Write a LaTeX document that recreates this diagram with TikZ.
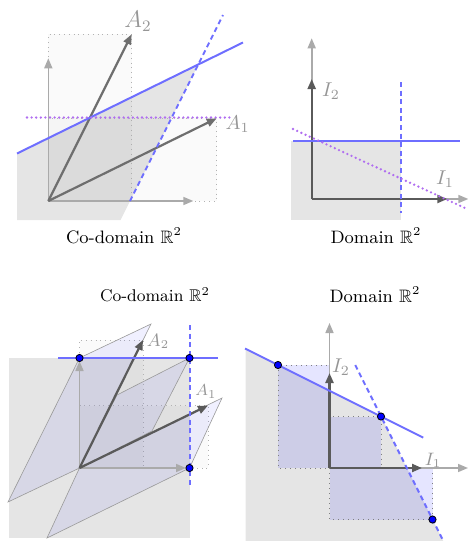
\documentclass[tikz,border=0pt]{standalone}
\usepackage{amssymb}
\usetikzlibrary{arrows.meta}
\definecolor{regiongray}{RGB}{229,229,229}
\definecolor{lineblue}{RGB}{110,110,255}
\definecolor{purp}{RGB}{176,110,240}
\definecolor{darkarrow}{RGB}{90,90,90}
\definecolor{midarrow}{RGB}{110,110,110}
\definecolor{lightaxis}{RGB}{170,170,170}
\definecolor{labelgray}{RGB}{150,150,150}
\tikzset{
 axisline/.style={lightaxis, line width=0.8pt, -{Triangle[length=5pt,width=4pt]}},
 vecarrow/.style={darkarrow, line width=1.1pt, -{Triangle[length=5pt,width=4pt]}},
 solidblue/.style={lineblue, line width=1pt},
 dashblue/.style={lineblue, line width=1pt, dash pattern=on 2.5pt off 1.8pt},
 dotpurple/.style={purp, line width=1.3pt, dash pattern=on 0pt off 2.3pt, line cap=round},
 feasible/.style={fill=regiongray},
 projbox/.style={draw=gray!60, dotted, line width=0.4pt, fill=black, fill opacity=0.02},
 cellbox/.style={draw=gray, dotted, line width=0.5pt, fill=blue, fill opacity=0.1},
 parabox/.style={draw=gray!80, line width=0.3pt, fill=blue, fill opacity=0.06},
 vertexdot/.style={circle, fill=blue, draw=black, line width=0.4pt, inner sep=0pt, minimum size=3.6pt},
 veclabel/.style={labelgray, inner sep=0pt},
 captext/.style={black, inner sep=0pt, font=\fontsize{9}{10}\selectfont}
}
\begin{document}
\begin{tikzpicture}[x=0.5pt,y=-0.5pt]
\useasboundingbox (0,0) rectangle (469,541);
% ---------- top left: co-domain ----------
\coordinate (O1) at (48.3,201);
\coordinate (a1) at (216.7,118.3);
\coordinate (a2) at (131.7,34.3);
\fill[feasible] (17,220) -- (17,153.5) -- (198.3,64.5) -- (120.5,220) -- cycle;
\path[projbox] (O1) rectangle (a2);
\path[projbox] (O1) rectangle (a1);
\coordinate (x1end) at (193.3,201);
\coordinate (y1end) at (48.3,58.3);
\draw[axisline] (O1) -- (x1end);
\draw[axisline] (O1) -- (y1end);
\draw[vecarrow, midarrow] (O1) -- (a1);
\draw[vecarrow, midarrow] (O1) -- (a2);
\coordinate (s1a) at (17,153.5); \coordinate (s1b) at (243,42.5);
\draw[solidblue] (s1a) -- (s1b);
\coordinate (d1a) at (130,201); \coordinate (d1b) at (223,15);
\draw[dashblue] (d1a) -- (d1b);
\coordinate (p1a) at (27,117.5); \coordinate (p1b) at (230,117.5);
\draw[dotpurple] (p1a) -- (p1b);
\node[veclabel, font=\fontsize{12}{14}\selectfont] (A2top) at (138,21) {$A_2$};
\node[veclabel, font=\fontsize{10}{12}\selectfont] (A1top) at (237.5,124) {$A_1$};
\node[captext] (cap1) at (124,236) {Co-domain $\mathbb{R}^2$};
% ---------- top right: domain ----------
\coordinate (O2) at (311.7,199);
\fill[feasible] (291,141) rectangle (401,220);
\coordinate (x2end) at (468.3,199);
\coordinate (y2end) at (311.7,38.3);
\draw[axisline] (O2) -- (x2end);
\draw[axisline] (O2) -- (y2end);
\coordinate (i1) at (447.3,199);
\coordinate (i2) at (311.7,79);
\draw[vecarrow] (O2) -- (i1);
\draw[vecarrow] (O2) -- (i2);
\coordinate (s2a) at (293,141); \coordinate (s2b) at (460,141);
\draw[solidblue] (s2a) -- (s2b);
\coordinate (d2a) at (401,82); \coordinate (d2b) at (401,213);
\draw[dashblue] (d2a) -- (d2b);
\coordinate (p2a) at (293,129); \coordinate (p2b) at (465,208);
\draw[dotpurple] (p2a) -- (p2b);
\node[veclabel, font=\fontsize{10}{12}\selectfont] (I2top) at (331,91) {$I_2$};
\node[veclabel, font=\fontsize{10}{12}\selectfont] (I1top) at (445,179) {$I_1$};
\node[captext] (cap2) at (376,236) {Domain $\mathbb{R}^2$};
% ---------- bottom left: co-domain ----------
\coordinate (O3) at (79.5,468);
\coordinate (b1) at (208,405.5);
\coordinate (b2) at (143,340);
\coordinate (P1) at (79.5,358);
\coordinate (P2) at (189.5,358);
\coordinate (P3) at (189.5,468);
\fill[feasible] (9,358) rectangle (189.5,537.5);
\path[projbox] (O3) rectangle (b2);
\path[projbox] (O3) rectangle (b1);
\path[parabox] (O3) -- (8,502) -- (P1) -- (151,324) -- cycle;
\path[parabox] (O3) -- (152,431) -- (P2) -- (117,395) -- cycle;
\path[parabox] (O3) -- (222,398) -- (P3) -- (47,538) -- cycle;
\coordinate (x3end) at (186,468);
\coordinate (y3end) at (79.5,361);
\draw[axisline] (O3) -- (x3end);
\draw[axisline] (O3) -- (y3end);
\draw[vecarrow] (O3) -- (b1);
\draw[vecarrow] (O3) -- (b2);
\coordinate (s3a) at (58,358); \coordinate (s3b) at (217.7,358);
\draw[solidblue] (s3a) -- (s3b);
\coordinate (d3a) at (189.5,325); \coordinate (d3b) at (189.5,485);
\draw[dashblue] (d3a) -- (d3b);
\node[vertexdot] (Q1) at (P1) {};
\node[vertexdot] (Q2) at (P2) {};
\node[vertexdot] (Q3) at (P3) {};
\node[veclabel, font=\fontsize{9}{10}\selectfont] (A2bot) at (158,341.5) {$A_2$};
\node[veclabel, font=\fontsize{8}{10}\selectfont] (A1bot) at (206,391.5) {$A_1$};
\node[captext, font=\fontsize{8.5}{10}\selectfont] (cap3) at (155,295) {Co-domain $\mathbb{R}^2$};
% ---------- bottom right: domain ----------
\coordinate (O4) at (329.5,468);
\coordinate (D1) at (278,365);
\coordinate (D2) at (381,416.5);
\coordinate (D3) at (432.5,519.5);
\fill[feasible] (245.7,348.5) -- (D2) -- (443.3,541) -- (245.7,541) -- cycle;
\path[cellbox] (D1) rectangle (O4);
\path[cellbox] (O4) rectangle (D2);
\path[cellbox] (O4) rectangle (D3);
\coordinate (x4end) at (468,468);
\coordinate (y4end) at (329.5,323);
\draw[axisline] (O4) -- (x4end);
\draw[axisline] (O4) -- (y4end);
\coordinate (j1) at (422,468);
\coordinate (j2) at (329.5,373);
\draw[vecarrow] (O4) -- (j1);
\draw[vecarrow] (O4) -- (j2);
\coordinate (s4a) at (245,348.5); \coordinate (s4b) at (423.2,437.6);
\draw[solidblue] (s4a) -- (s4b);
\coordinate (d4a) at (355.25,365); \coordinate (d4b) at (443.3,541);
\draw[dashblue] (d4a) -- (d4b);
\node[vertexdot] (E1) at (D1) {};
\node[vertexdot] (E2) at (D2) {};
\node[vertexdot] (E3) at (D3) {};
\node[veclabel, font=\fontsize{10}{12}\selectfont] (I2bot) at (341,367) {$I_2$};
\node[veclabel, font=\fontsize{9}{10}\selectfont] (I1bot) at (433,460) {$I_1$};
\node[captext] (cap4) at (375,295) {Domain $\mathbb{R}^2$};
\end{tikzpicture}
\end{document}
